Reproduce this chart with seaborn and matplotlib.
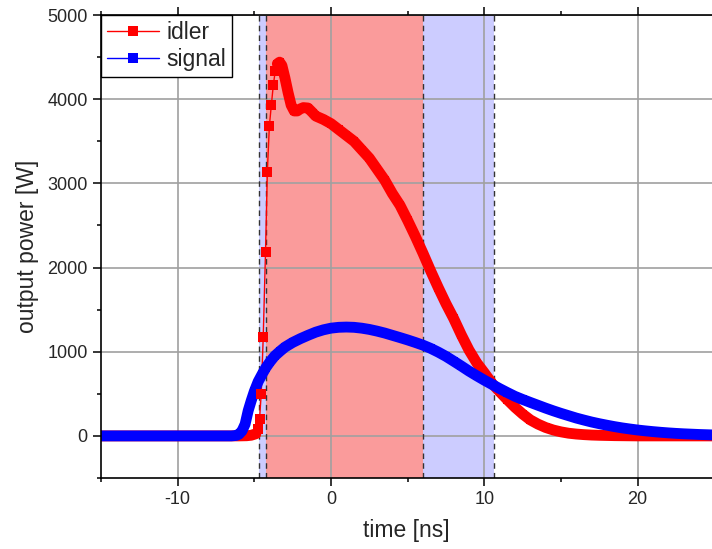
import pandas as pd
import seaborn as sns
import matplotlib.pyplot as plt
from matplotlib.ticker import MultipleLocator

# idler trace (time in ns, output power in W)
idler_t = [-15, -14, -13, -12, -11, -10, -9, -8, -7, -6.5, -6, -5.5, -5.2, -4.9,
           -4.77, -4.66, -4.55, -4.42, -4.27, -4.15, -4.02, -3.89, -3.76, -3.63,
           -3.5, -3.35, -3.2, -3.0, -2.8, -2.6, -2.4, -2.2, -2.0, -1.8, -1.5, -1.2,
           -1.0, -0.5, 0, 0.5, 1, 1.5, 2, 2.5, 3, 3.5, 4, 4.5, 5, 5.5, 6, 6.5, 7,
           7.5, 8, 8.5, 9, 9.5, 10, 10.5, 11, 11.5, 12, 12.5, 13, 13.5, 14, 14.5,
           15, 15.5, 16, 16.5, 17, 17.5, 18, 18.5, 19, 20, 21, 22, 23, 24, 25]
idler_p = [0, 0, 0, 0, 0, 0, 0, 0, 0, 0, 0, 2, 8, 25,
           80, 200, 500, 1170, 2190, 3140, 3680, 3930, 4170, 4340,
           4420, 4440, 4400, 4250, 4080, 3930, 3860, 3860, 3885, 3900, 3895, 3840,
           3800, 3760, 3710, 3640, 3570, 3500, 3400, 3300, 3170, 3040, 2880, 2740,
           2560, 2370, 2170, 1960, 1760, 1570, 1395, 1200, 1020, 870, 750, 625,
           525, 430, 340, 260, 190, 140, 100, 70, 48, 32, 22, 15, 10, 7, 5, 3, 2,
           0, 0, 0, 0, 0, 0]

# signal trace
signal_t = [-15, -14, -13, -12, -11, -10, -9, -8, -7, -6.5, -6.2, -6.0, -5.8, -5.6,
            -5.4, -5.2, -5.0, -4.75, -4.5, -4.25, -4.0, -3.67, -3.3, -3.0, -2.5, -2,
            -1.5, -1, -0.5, 0, 0.5, 1, 1.5, 2, 2.5, 3, 3.5, 4, 4.5, 5, 5.5, 6, 6.5,
            7, 7.5, 8, 8.5, 9, 9.5, 10, 10.5, 11, 11.5, 12, 12.5, 13, 13.5, 14,
            14.5, 15, 15.5, 16, 16.5, 17, 17.5, 18, 18.5, 19, 19.5, 20, 20.5, 21,
            21.5, 22, 22.5, 23, 23.5, 24, 24.5, 25]
signal_p = [0, 0, 0, 0, 0, 0, 0, 0, 0, 0, 5, 20, 60, 140,
            300, 420, 530, 645, 730, 810, 875, 950, 1010, 1055, 1110, 1155,
            1195, 1232, 1260, 1280, 1290, 1293, 1290, 1280, 1265, 1245, 1222, 1195,
            1168, 1140, 1110, 1078, 1040, 995, 945, 888, 830, 770, 715, 662, 612,
            562, 515, 470, 433, 398, 364, 330, 298, 268, 240, 212, 188, 165, 145,
            127, 110, 95, 82, 70, 60, 51, 43, 36, 30, 25, 21, 17, 14, 11]

# shaded time windows and their dashed borders
red_windows = [(-4.23, 6.0)]
blue_windows = [(-4.69, -4.23), (6.0, 10.63)]
window_edges = [-4.69, -4.23, 6.0, 10.63]

idler = pd.DataFrame({'time': idler_t, 'power': idler_p})
signal = pd.DataFrame({'time': signal_t, 'power': signal_p})

sns.set_style("ticks")
plt.rcParams['font.family'] = ['Liberation Sans', 'DejaVu Sans']
plt.rcParams['axes.unicode_minus'] = False

fig = plt.figure(figsize=(7.12, 5.49), dpi=100)
ax = fig.add_axes([101 / 712, 71 / 549, 611 / 712, 463 / 549])

for a, b in red_windows:
    ax.axvspan(a, b, color='#FA9B9B', lw=0, zorder=0.1)
for a, b in blue_windows:
    ax.axvspan(a, b, color='#CCCCFF', lw=0, zorder=0.1)
for x in window_edges:
    ax.axvline(x, color='#333333', lw=1, ls=(0, (4, 3)), zorder=0.6)

ax.set_axisbelow(True)
ax.grid(True, which='major', color='#A0A0A0', lw=1.2)

# thick band that the dense markers form, broken over the steep idler rise
band = 7.8
pre = idler[idler['time'] <= -4.9]
post = idler[idler['time'] >= -3.5]
sns.lineplot(data=pre, x='time', y='power', color='red', lw=band, legend=False, ax=ax)
sns.lineplot(data=post, x='time', y='power', color='red', lw=band, legend=False, ax=ax)
sns.lineplot(data=idler, x='time', y='power', color='red', lw=1, marker='s',
             markersize=5.5, markeredgewidth=0, label='idler', ax=ax)

sns.lineplot(data=signal, x='time', y='power', color='blue', lw=band, legend=False, ax=ax)
sns.lineplot(data=signal, x='time', y='power', color='blue', lw=1, marker='s',
             markersize=5.5, markeredgewidth=0, label='signal', ax=ax)

rise = idler[(idler['time'] > -4.9) & (idler['time'] < -3.5)]
sns.scatterplot(data=rise, x='time', y='power', color='red', marker='s', s=49,
                linewidth=0, legend=False, ax=ax, zorder=3)

ax.set_xlim(-15, 24.85)
ax.set_ylim(-500, 5000)
ax.xaxis.set_major_locator(MultipleLocator(10))
ax.xaxis.set_minor_locator(MultipleLocator(5))
ax.yaxis.set_major_locator(MultipleLocator(1000))
ax.yaxis.set_minor_locator(MultipleLocator(500))
ax.tick_params(which='both', direction='out', top=True, width=1.1, color='black',
               labelsize=13)
ax.tick_params(which='major', length=6)
ax.tick_params(which='minor', length=3)
for s in ['left', 'bottom', 'top']:
    ax.spines[s].set_color('black')
    ax.spines[s].set_linewidth(1.2)
ax.spines['right'].set_visible(False)

ax.set_xlabel('time [ns]', fontsize=16.5, labelpad=8)
ax.set_ylabel('output power [W]', fontsize=16.5, labelpad=6)

leg = ax.legend(loc='upper left', borderaxespad=0, fancybox=False, edgecolor='black',
                framealpha=1, fontsize=16.5, handlelength=2.3, handletextpad=0.3,
                labelspacing=0.2, borderpad=0.25)
leg.get_frame().set_linewidth(1.0)
for line in leg.get_lines():
    line.set_markersize(7.5)

plt.savefig('out.png', dpi=100)
